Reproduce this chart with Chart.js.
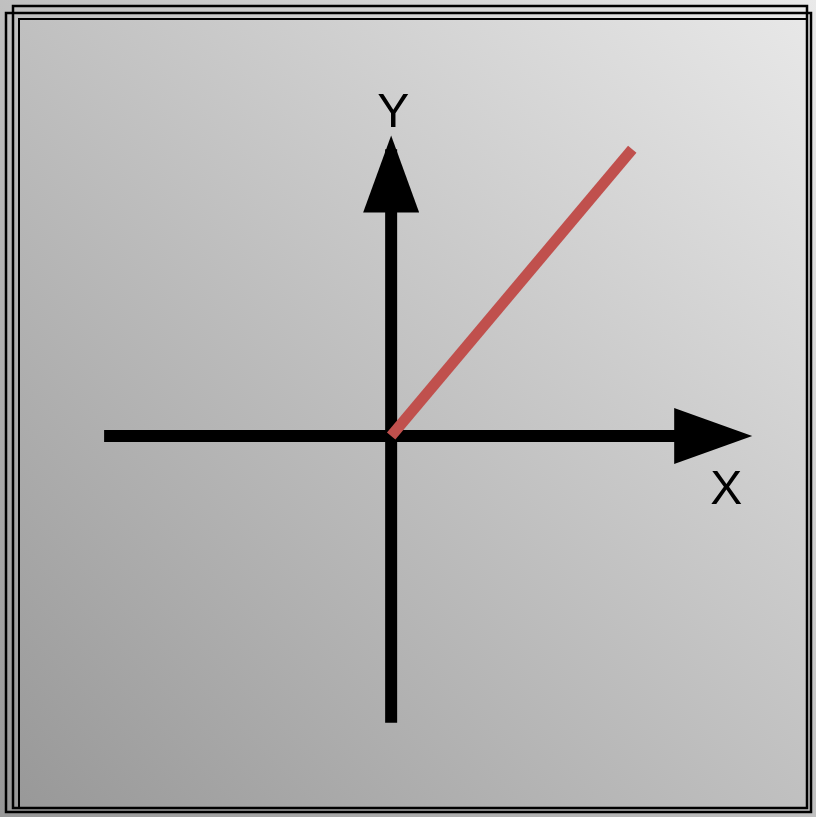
<!DOCTYPE html>
<html>
<head>
<meta charset="utf-8">
<script src="https://cdn.jsdelivr.net/npm/chart.js@4.4.0/dist/chart.umd.min.js"></script>
<style>
html, body { margin: 0; padding: 0; background: #c0c0c0; }
#wrap { width: 816px; height: 817px; }
</style>
</head>
<body>
<div id="wrap"><canvas id="chart"></canvas></div>
<script>
// geometry of the diagram, in data units (origin at 0,0)
const xAxisLine = [{x: -1, y: 0}, {x: 1.0, y: 0}];
const yAxisLine = [{x: 0, y: -1}, {x: 0, y: 1.0}];
const vectorLine = [{x: 0, y: 0}, {x: 0.84, y: 1.0}];
const arrowX = {tip: {x: 1.258, y: 0}, base: {x: 0.986, y: 0}};
const arrowY = {tip: {x: 0, y: 1.048}, base: {x: 0, y: 0.78}};
const axisLabels = ['X', 'Y'];

const diagramPlugin = {
  id: 'diagram',
  beforeDraw(chart) {
    const ctx = chart.ctx, w = chart.width, h = chart.height;
    ctx.save();
    const g = ctx.createLinearGradient(0, h, w, 0);
    g.addColorStop(0, '#979797');
    g.addColorStop(1, '#e9e9e9');
    ctx.fillStyle = g;
    ctx.fillRect(0, 0, w, h);
    // offset frame lines
    ctx.strokeStyle = '#000';
    ctx.lineWidth = 2.5;
    ctx.strokeRect(6, 13, 805, 799);
    ctx.strokeRect(13, 6, 794, 802);
    ctx.lineWidth = 2;
    ctx.strokeRect(19, 19, 788, 789);
    ctx.restore();
  },
  afterDatasetsDraw(chart) {
    const ctx = chart.ctx;
    const sx = chart.scales.x, sy = chart.scales.y;
    const px = p => [sx.getPixelForValue(p.x), sy.getPixelForValue(p.y)];
    ctx.save();
    ctx.fillStyle = '#000';
    // x arrow head
    let t = px(arrowX.tip), b = px(arrowX.base);
    ctx.beginPath();
    ctx.moveTo(t[0], t[1]);
    ctx.lineTo(b[0], b[1] - 28);
    ctx.lineTo(b[0], b[1] + 28);
    ctx.closePath();
    ctx.fill();
    // y arrow head
    t = px(arrowY.tip); b = px(arrowY.base);
    ctx.beginPath();
    ctx.moveTo(t[0], t[1]);
    ctx.lineTo(b[0] - 28, b[1]);
    ctx.lineTo(b[0] + 28, b[1]);
    ctx.closePath();
    ctx.fill();
    // labels
    ctx.font = '48px "Liberation Sans", Arial, sans-serif';
    ctx.textAlign = 'center';
    ctx.textBaseline = 'alphabetic';
    const ax = px(arrowX.tip);
    ctx.fillText(axisLabels[0], ax[0] - 26, ax[1] + 68);
    const ay = px(arrowY.tip);
    ctx.fillText(axisLabels[1], ay[0] + 2, ay[1] - 9);
    ctx.restore();
  }
};

new Chart(document.getElementById('chart'), {
  type: 'scatter',
  data: {
    datasets: [
      {data: vectorLine, showLine: true, borderColor: '#c0504d', borderWidth: 11, pointRadius: 0},
      {data: xAxisLine, showLine: true, borderColor: '#000', borderWidth: 12, pointRadius: 0},
      {data: yAxisLine, showLine: true, borderColor: '#000', borderWidth: 12, pointRadius: 0}
    ]
  },
  options: {
    responsive: true,
    maintainAspectRatio: false,
    animation: false,
    layout: {padding: {left: 18, right: 23, top: 92, bottom: 37}},
    plugins: {legend: {display: false}, tooltip: {enabled: false}},
    scales: {
      x: {type: 'linear', min: -1.3, max: 1.4, display: false},
      y: {type: 'linear', min: -1.2, max: 1.2, display: false}
    }
  },
  plugins: [diagramPlugin]
});
</script>
</body>
</html>
